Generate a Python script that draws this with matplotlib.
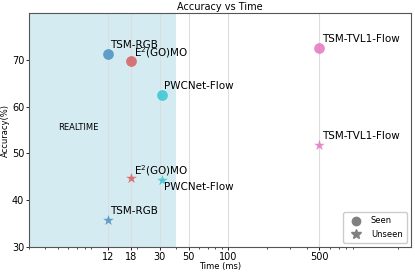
import matplotlib
matplotlib.use('Agg')
import matplotlib.pyplot as plt
from matplotlib.lines import Line2D
from matplotlib.ticker import FixedLocator, FixedFormatter, NullFormatter

# Data
methods = ['TSM-RGB', 'E$^2$(GO)MO', 'PWCNet-Flow', 'TSM-TVL1-Flow']
times = [12, 18, 31, 500]
acc_seen = [71.3, 69.8, 62.4, 72.5]
acc_unseen = [35.8, 44.7, 44.4, 51.8]
colors = ['#1f77b4', '#d62728', '#17becf', '#e377c2']
alphas = [0.65, 0.6, 0.7, 0.85]
xticks = [12, 18, 30, 50, 100, 500]

fig = plt.figure(figsize=(4.15, 2.72), dpi=100)
ax = fig.add_axes([0.07, 0.092, 0.92, 0.86])

# Realtime region
ax.axvspan(3, 40, color='lightblue', alpha=0.5, lw=0, zorder=0)
ax.text(7.2, 55.5, 'REALTIME', fontsize=6, ha='center', va='center')

for t, s, u, c, a, m in zip(times, acc_seen, acc_unseen, colors, alphas, methods):
    ax.scatter(t, s, s=60, color=c, alpha=a, marker='o', lw=0, zorder=3)
    ax.scatter(t, u, s=65, color=c, alpha=a, marker='*', lw=0, zorder=3)
    dy = 0.5 if m.startswith('E') else 3
    ax.annotate(m, (t, s), xytext=(2, dy), textcoords='offset points',
                fontsize=7.5, ha='left', va='bottom')
    if m == 'PWCNet-Flow':
        ax.annotate(m, (t, u), xytext=(2, -2), textcoords='offset points',
                    fontsize=7.5, ha='left', va='top')
    else:
        ax.annotate(m, (t, u), xytext=(2, dy), textcoords='offset points',
                    fontsize=7.5, ha='left', va='bottom')

ax.set_xscale('log')
ax.set_xlim(3, 2500)
ax.set_ylim(30, 80)
ax.xaxis.set_major_locator(FixedLocator(xticks))
ax.xaxis.set_major_formatter(FixedFormatter([str(x) for x in xticks]))
ax.xaxis.set_minor_formatter(NullFormatter())
ax.set_yticks([30, 40, 50, 60, 70])
ax.grid(axis='x', color='#dddddd', lw=0.8, zorder=1)
ax.set_axisbelow(True)
ax.tick_params(labelsize=7, length=2.5, width=0.6, pad=1)
ax.tick_params(which='minor', length=1.5, width=0.5)
for sp in ax.spines.values():
    sp.set_color('#555555')
    sp.set_linewidth(0.8)

ax.set_title('Accuracy vs Time', fontsize=7, pad=2)
ax.set_xlabel('Time (ms)', fontsize=6, labelpad=0)
ax.set_ylabel('Accuracy(%)', fontsize=6, labelpad=1)

handles = [Line2D([], [], marker='o', color='gray', ls='', markersize=6, label='Seen'),
           Line2D([], [], marker='*', color='gray', ls='', markersize=7, label='Unseen')]
ax.legend(handles=handles, loc='lower right', fontsize=6, handletextpad=0.8,
          borderpad=0.5, framealpha=1)

plt.savefig('out.png', dpi=100)
